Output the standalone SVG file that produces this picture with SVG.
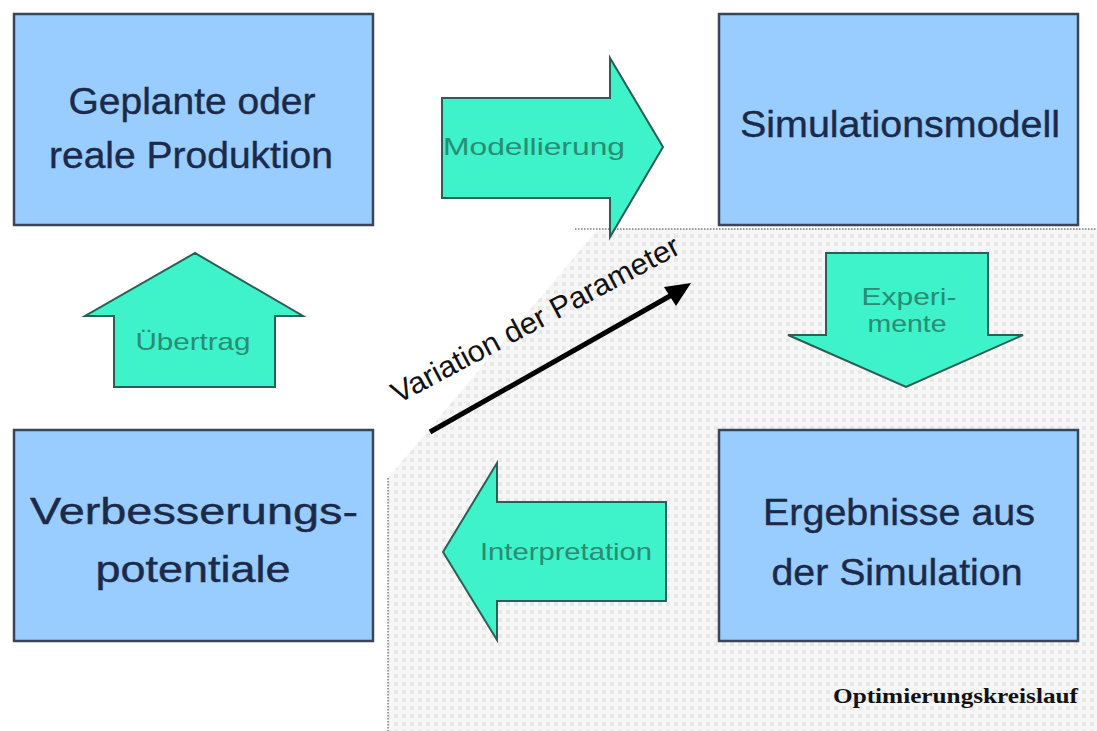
<svg xmlns="http://www.w3.org/2000/svg" width="1097" height="731" viewBox="0 0 1097 731">
<style>
.box{fill:#99ccff;stroke:#3a4656;stroke-width:2.5}
.bt{font-family:"Liberation Sans",Arial,sans-serif;font-size:37px;fill:#1b2a48;stroke:#1b2a48;stroke-width:0.4;text-anchor:middle}
.arr{fill:#3ef2c9;stroke:#2d5e55;stroke-width:2}
.at{font-family:"Liberation Sans",Arial,sans-serif;font-size:24px;fill:#2a8c74;text-anchor:middle}
.dot{fill:none;stroke:#9a9a9a;stroke-width:2;stroke-dasharray:1.5 1.5}
</style>
<defs>
<pattern id="grid" width="8" height="8" patternUnits="userSpaceOnUse">
<rect width="8" height="8" fill="#f6f6f6"/>
<rect x="2" y="2" width="4" height="4" fill="#e8e8e8"/>
</pattern>
</defs>
<rect width="1097" height="731" fill="#ffffff"/>
<g id="optimierungsbereich">
<path d="M598,229 L1097,229 L1097,731 L388,731 L388,478 Z" fill="url(#grid)"/>
<line class="dot" x1="575" y1="229" x2="1097" y2="229"/>
<line class="dot" x1="388" y1="478" x2="388" y2="731"/>
<text x="1078" y="703" font-family="'Liberation Serif',serif" font-weight="bold" font-size="20" fill="#111" text-anchor="end" textLength="245" lengthAdjust="spacingAndGlyphs">Optimierungskreislauf</text>
</g>
<g id="geplante">
<rect class="box" x="14" y="14" width="359" height="211"/>
<text class="bt" x="192" y="114" textLength="247" lengthAdjust="spacingAndGlyphs">Geplante oder</text>
<text class="bt" x="191" y="168" textLength="284" lengthAdjust="spacingAndGlyphs">reale Produktion</text>
</g>
<g id="simulationsmodell">
<rect class="box" x="719" y="14" width="359" height="211"/>
<text class="bt" x="900" y="137" textLength="320" lengthAdjust="spacingAndGlyphs">Simulationsmodell</text>
</g>
<g id="verbesserung">
<rect class="box" x="14" y="430" width="359" height="211"/>
<text class="bt" x="194" y="524" textLength="328" lengthAdjust="spacingAndGlyphs">Verbesserungs-</text>
<text class="bt" x="193" y="582" textLength="195" lengthAdjust="spacingAndGlyphs">potentiale</text>
</g>
<g id="ergebnisse">
<rect class="box" x="719" y="430" width="359" height="211"/>
<text class="bt" x="899" y="525" textLength="272" lengthAdjust="spacingAndGlyphs">Ergebnisse aus</text>
<text class="bt" x="897" y="585" textLength="251" lengthAdjust="spacingAndGlyphs">der Simulation</text>
</g>
<g id="connectors">
<g id="modellierung">
<path class="arr" d="M442,98 L610,98 L610,58 L663,147 L610,237 L610,198 L442,198 Z"/>
<text class="at" x="534" y="155" textLength="182" lengthAdjust="spacingAndGlyphs">Modellierung</text>
</g>
<g id="experimente">
<path class="arr" d="M826,253 L988,253 L988,335 L1023,335 L906,387 L788,335 L826,335 Z"/>
<text class="at" x="909" y="305" textLength="95" lengthAdjust="spacingAndGlyphs">Experi-</text>
<text class="at" x="907" y="332" textLength="79" lengthAdjust="spacingAndGlyphs">mente</text>
</g>
<g id="interpretation">
<path class="arr" d="M666,502 L666,601 L497,601 L497,640 L443,552 L497,463 L497,502 Z"/>
<text class="at" x="566" y="560" textLength="172" lengthAdjust="spacingAndGlyphs">Interpretation</text>
</g>
<g id="uebertrag">
<path class="arr" d="M114,387 L114,316 L85,316 L195,253 L303,316 L275,316 L275,387 Z"/>
<text class="at" x="193" y="350" textLength="115" lengthAdjust="spacingAndGlyphs">Übertrag</text>
</g>
<g id="variation">
<line x1="430" y1="432" x2="684" y2="288" stroke="#000" stroke-width="5"/>
<path d="M691,283 L664,287 L676,306 Z" fill="#000"/>
<text x="398" y="404" font-family="'Liberation Sans',Arial,sans-serif" font-size="30" fill="#111" transform="rotate(-28 398 404)" textLength="322" lengthAdjust="spacingAndGlyphs">Variation der Parameter</text>
</g>
</g>
</svg>
